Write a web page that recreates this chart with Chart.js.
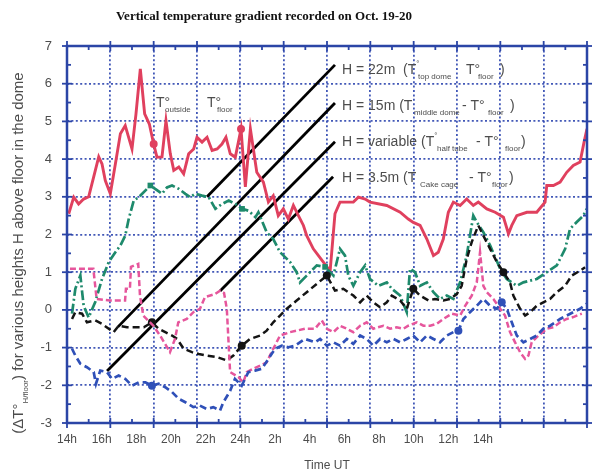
<!DOCTYPE html>
<html>
<head>
<meta charset="utf-8">
<script src="https://cdn.jsdelivr.net/npm/chart.js@4.4.0/dist/chart.umd.min.js"></script>
<style>
html, body { margin: 0; padding: 0; background: #fff; }
</style>
</head>
<body>
<canvas id="chart" width="592" height="476"></canvas>
<script>
// hours counted from 14h on Oct. 19
const timeLabels = ['14h', '16h', '18h', '20h', '22h', '24h', '2h', '4h', '6h', '8h', '10h', '12h', '14h'];
const labelHours = [0, 2, 4, 6, 8, 10, 12, 14, 16, 18, 20, 22, 24];

// T outside - T floor
const outsideFloor = [[0.1,2.55],[0.39,2.99],[0.67,2.81],[0.96,2.94],[1.25,3.0],[1.54,3.53],[1.83,4.06],[2.02,3.87],[2.21,3.43],[2.5,3.08],[2.79,3.87],[3.08,4.67],[3.36,4.89],[3.75,4.27],[3.98,5.2],[4.23,6.39],[4.48,5.2],[4.75,4.93],[5.0,4.4],[5.19,4.05],[5.48,4.06],[5.71,5.02],[5.96,4.14],[6.16,3.7],[6.45,3.79],[6.73,3.61],[7.02,4.14],[7.31,4.27],[7.5,4.58],[7.79,4.45],[8.08,4.58],[8.37,4.23],[8.66,4.27],[8.94,4.4],[9.17,4.58],[9.42,4.14],[9.71,4.05],[10.04,4.8],[10.29,3.26],[10.58,4.8],[10.95,3.65],[11.33,3.39],[11.62,2.86],[11.9,3.03],[12.19,2.5],[12.48,2.68],[12.77,2.41],[13.06,2.77],[13.35,2.5],[13.64,2.24],[13.83,1.97],[14.21,1.62],[14.79,1.27],[15.18,1.03],[15.46,2.55],[15.75,2.86],[16.52,2.86],[16.81,2.99],[17.2,2.94],[17.48,2.86],[18.45,2.77],[19.22,2.59],[19.69,2.41],[19.98,2.32],[20.37,2.24],[20.76,1.88],[21.14,1.44],[21.42,1.53],[21.71,1.88],[22.0,2.59],[22.29,2.86],[22.68,2.77],[23.06,2.94],[23.44,2.77],[23.73,2.86],[24.22,2.68],[24.7,2.59],[25.18,2.46],[25.47,2.02],[25.66,2.24],[25.95,2.5],[26.53,2.59],[27.1,2.59],[27.58,2.86],[27.68,3.3],[28.06,3.3],[28.45,3.39],[28.83,3.65],[29.21,3.83],[29.6,3.92],[29.83,4.45],[30.0,4.8]];

// H = 22m, top dome - floor
const topDome = [[0.29,-0.1],[0.48,0.56],[0.77,0.91],[0.96,0.11],[1.25,-0.2],[1.63,0.21],[2.02,0.82],[2.41,1.27],[2.79,1.53],[3.08,1.71],[3.36,1.97],[3.56,2.41],[3.85,2.9],[4.14,2.99],[4.81,3.3],[5.48,3.08],[5.77,3.25],[6.06,3.3],[6.45,3.21],[6.83,3.08],[7.11,2.99],[7.4,3.08],[7.79,3.03],[8.18,2.99],[8.56,2.68],[8.94,2.81],[9.33,2.9],[9.71,2.81],[10.1,2.68],[10.48,2.63],[10.87,2.46],[11.04,2.59],[11.52,2.06],[11.9,1.88],[12.29,1.53],[12.87,1.27],[13.25,1.0],[13.44,0.73],[13.83,0.91],[14.41,1.18],[14.89,1.14],[15.37,0.91],[15.75,1.62],[16.04,1.44],[16.23,0.91],[16.52,0.64],[16.91,1.0],[17.2,1.18],[17.48,0.82],[17.96,0.64],[18.45,0.73],[18.74,0.56],[19.22,0.38],[19.6,-0.06],[19.79,1.09],[20.08,1.0],[20.37,0.64],[20.76,0.73],[21.14,0.47],[21.52,0.29],[21.91,0.38],[22.29,0.29],[22.68,0.73],[23.06,1.44],[23.44,2.5],[23.64,2.33],[24.02,2.06],[24.41,1.71],[24.99,1.09],[25.37,0.82],[25.95,0.64],[26.33,0.73],[27.1,0.82],[27.68,1.0],[28.26,1.18],[28.74,1.62],[29.02,2.15],[29.41,2.33],[29.79,2.5],[29.98,2.68]];

// H = 15m, middle dome - floor
const middleDome = [[0.29,-0.24],[0.48,-0.06],[0.87,-0.1],[1.15,-0.33],[1.63,-0.28],[2.02,-0.37],[2.41,-0.5],[2.69,-0.59],[2.98,-0.42],[3.46,-0.46],[3.94,-0.46],[4.43,-0.46],[4.9,-0.33],[5.29,-0.5],[5.67,-0.59],[6.06,-0.68],[6.35,-0.77],[6.73,-1.03],[7.21,-1.12],[7.6,-1.17],[8.06,-1.21],[8.64,-1.25],[9.22,-1.34],[9.6,-1.21],[10.08,-0.95],[10.56,-0.77],[11.14,-0.68],[11.52,-0.55],[11.9,-0.33],[12.29,-0.15],[12.68,0.03],[13.25,0.25],[13.83,0.47],[14.41,0.69],[14.99,0.91],[15.46,0.51],[15.94,0.56],[16.52,0.38],[16.91,0.2],[17.29,0.38],[17.67,0.2],[18.06,0.07],[18.45,0.2],[18.74,0.38],[19.22,0.25],[19.6,0.03],[19.98,0.56],[20.37,0.38],[20.85,0.25],[21.23,0.29],[21.71,0.25],[22.1,0.29],[22.49,0.42],[22.77,0.64],[23.06,1.35],[23.35,1.8],[23.73,2.24],[24.02,1.97],[24.41,1.62],[24.8,1.27],[25.18,1.0],[25.56,0.73],[25.75,0.38],[26.14,0.03],[26.43,-0.15],[26.72,-0.06],[27.1,0.11],[27.48,0.2],[27.87,0.29],[28.26,0.47],[28.74,0.64],[29.12,0.91],[29.6,1.04],[29.89,1.13]];

// H = 3.5m, cake cage - floor
const cakeCage = [[0.17,1.09],[1.52,1.09],[1.71,0.29],[2.48,0.25],[3.06,0.25],[3.35,0.25],[3.4,0.56],[3.63,0.56],[3.69,1.14],[4.11,1.22],[4.21,0.38],[4.4,-0.15],[4.98,-0.42],[5.37,-0.68],[5.94,-1.12],[6.23,-0.77],[6.42,-0.33],[6.91,-0.24],[7.29,-0.06],[7.67,0.03],[7.96,0.34],[8.54,0.42],[8.83,0.51],[9.06,0.45],[9.22,0.03],[9.31,-0.77],[9.41,-1.65],[9.88,-1.78],[10.17,-1.92],[10.37,-1.65],[10.75,-1.56],[11.14,-1.48],[11.52,-1.39],[11.9,-1.03],[12.29,-0.68],[12.87,-0.59],[13.73,-0.5],[14.31,-0.5],[14.7,-0.28],[14.99,-0.5],[15.37,-0.59],[15.75,-0.42],[16.14,-0.5],[16.52,-0.59],[16.91,-0.42],[17.29,-0.33],[17.67,-0.5],[18.25,-0.42],[18.64,-0.5],[19.02,-0.46],[19.41,-0.5],[19.69,-0.42],[20.18,-0.33],[20.56,-0.42],[20.95,-0.42],[21.33,-0.37],[21.71,-0.24],[22.2,-0.1],[22.68,-0.15],[22.97,0.11],[23.35,0.38],[23.64,0.73],[23.83,1.53],[24.02,0.64],[24.22,0.47],[24.6,0.29],[24.99,0.03],[25.27,-0.15],[25.56,-0.59],[25.85,-0.86],[26.14,-1.12],[26.43,-1.3],[26.62,-1.21],[26.81,-0.86],[27.2,-0.68],[27.68,-0.5],[28.06,-0.46],[28.45,-0.33],[28.83,-0.24],[29.21,-0.19],[29.7,-0.1]];

// H variable, half tube - floor
const halfTube = [[0.29,-1.03],[0.48,-1.21],[0.77,-1.43],[1.15,-1.52],[1.54,-1.65],[1.67,-1.96],[1.92,-1.61],[2.31,-1.65],[2.6,-1.83],[2.98,-1.74],[3.36,-1.83],[3.75,-2.01],[4.14,-1.92],[4.52,-1.92],[4.9,-2.01],[5.29,-1.96],[5.67,-2.05],[6.06,-2.18],[6.45,-2.36],[6.83,-2.45],[7.29,-2.58],[7.67,-2.54],[8.06,-2.63],[8.44,-2.58],[8.83,-2.67],[9.02,-2.45],[9.41,-2.15],[9.69,-1.83],[10.08,-2.01],[10.46,-1.65],[10.85,-1.61],[11.24,-1.56],[11.62,-1.3],[12.0,-1.03],[12.39,-0.95],[12.77,-0.99],[13.16,-0.95],[13.73,-0.77],[14.31,-0.86],[14.6,-0.77],[14.99,-0.95],[15.37,-0.86],[15.75,-0.95],[16.14,-0.77],[16.52,-0.9],[16.91,-0.68],[17.29,-0.77],[17.67,-0.95],[18.06,-0.77],[18.45,-0.86],[18.83,-0.77],[19.22,-0.86],[19.6,-0.77],[19.98,-0.68],[20.37,-0.86],[20.76,-0.68],[21.14,-0.77],[21.52,-0.86],[21.91,-0.68],[22.29,-0.59],[22.58,-0.55],[22.87,-0.24],[23.25,-0.06],[23.64,0.11],[24.02,0.29],[24.41,0.11],[24.8,0.03],[25.08,0.2],[25.37,0.03],[25.66,-0.33],[25.95,-0.68],[26.33,-0.86],[26.72,-0.77],[27.1,-0.68],[27.48,-0.5],[27.87,-0.42],[28.45,-0.24],[28.83,-0.15],[29.21,-0.06],[29.6,0.03],[29.98,0.16]];

// pointer lines from the legend notes to the curves
const arrow22m = [[15.46,6.5],[8.08,3.0]];
const arrow15m = [[15.46,5.49],[2.94,-0.45]];
const arrowVar = [[15.46,4.46],[2.31,-1.62]];
const arrow35m = [[15.35,3.53],[8.83,0.5]];

// hours where a curve carries a dot
const outsideDots = [5.0, 10.04];
const topDomeDots = [4.81, 10.1, 14.89];
const middleDomeDots = [4.9, 10.08, 14.99, 19.98, 25.18];
const halfTubeDots = [4.9, 22.58, 25.08];

const toXY = arr => arr.map(([x, y]) => ({x, y}));
const frameBlue = '#2b45a6';
const gridBlue = 'rgba(45,70,175,0.9)';
const textGray = '#4d4d4d';
const narrow = '"Liberation Sans Narrow", "Liberation Sans", Arial, sans-serif';
const regular = '"Liberation Sans", Arial, sans-serif';

function line(ctx, x1, y1, x2, y2) {
    ctx.beginPath();
    ctx.moveTo(x1, y1);
    ctx.lineTo(x2, y2);
    ctx.stroke();
}

// draws pieces of text with sub/superscripts one after another
function richText(ctx, x, y, parts, size, family) {
    let cx = x;
    parts.forEach(([txt, kind]) => {
        const s = kind === 'n' ? size : Math.round(size * 0.55);
        ctx.font = s + 'px ' + (family || narrow);
        const dy = kind === 'sub' ? size * 0.45 : (kind === 'sup' ? -size * 0.45 : 0);
        ctx.fillText(txt, cx, y + dy);
        cx += ctx.measureText(txt).width;
    });
    return cx - x;
}

const notes = {
    id: 'notes',
    afterDraw(chart) {
        const {ctx, chartArea: a, scales} = chart;
        const xs = scales.x, ys = scales.y;
        ctx.save();

        // frame and tick marks
        ctx.strokeStyle = frameBlue;
        ctx.lineWidth = 2.5;
        ctx.strokeRect(a.left, a.top, a.right - a.left, a.bottom - a.top);
        ctx.lineWidth = 1.8;
        for (let i = 0; i <= 24; i++) {
            const px = xs.getPixelForValue(i * 1.25);
            const major = i % 2 === 0;
            const o = major ? 5 : 0, n = major ? 5 : 4;
            line(ctx, px, a.bottom + o, px, a.bottom - n);
            line(ctx, px, a.top - o, px, a.top + n);
        }
        for (let i = 0; i <= 20; i++) {
            const py = ys.getPixelForValue(-3 + i * 0.5);
            const major = i % 2 === 0;
            const o = major ? 5 : 0, n = major ? 5 : 4;
            line(ctx, a.left - o, py, a.left + n, py);
            line(ctx, a.right + o, py, a.right - n, py);
        }

        // title
        ctx.fillStyle = '#111';
        ctx.font = 'bold 13px "Liberation Serif", "Times New Roman", serif';
        ctx.textAlign = 'center';
        ctx.textBaseline = 'middle';
        ctx.fillText('Vertical temperature gradient recorded on Oct. 19-20', 264, 17);

        // y axis title
        ctx.fillStyle = textGray;
        ctx.textAlign = 'left';
        const yParts = [['(\u0394T\u00b0', 'n'], ['H/floor', 'sub'], [') for various heights H above floor in the dome', 'n']];
        ctx.save();
        ctx.translate(19, 253);
        ctx.rotate(-Math.PI / 2);
        ctx.globalAlpha = 0;
        const w = richText(ctx, 0, 0, yParts, 15, regular);
        ctx.globalAlpha = 1;
        richText(ctx, -w / 2, 0, yParts, 15, regular);
        ctx.restore();

        // legend notes
        const legendLines = [
            [70, [[342, [['H = 22m  (T', 'n'], ['\u00b0', 'sup']]], [418, [['top dome', 'sub']]], [466, [['T\u00b0', 'n']]], [478, [['floor', 'sub']]], [500, [[')', 'n']]]]],
            [106, [[342, [['H = 15m (T', 'n']]], [414, [['middle dome', 'sub']]], [462, [['- T\u00b0', 'n']]], [488, [['floor', 'sub']]], [510, [[')', 'n']]]]],
            [142, [[342, [['H = variable (T', 'n'], ['\u00b0', 'sup']]], [437, [['half tube', 'sub']]], [476, [['- T\u00b0', 'n']]], [505, [['floor', 'sub']]], [521, [[')', 'n']]]]],
            [178, [[342, [['H = 3.5m (T', 'n']]], [420, [['Cake cage', 'sub']]], [469, [['- T\u00b0', 'n']]], [492, [['floor', 'sub']]], [509, [[')', 'n']]]]]
        ];
        legendLines.forEach(([y, pieces]) => {
            pieces.forEach(([x, parts]) => richText(ctx, x, y, parts, 14));
        });
        richText(ctx, 156, 103, [['T\u00b0', 'n']], 14);
        richText(ctx, 165, 103, [['outside', 'sub']], 14);
        richText(ctx, 207, 103, [['T\u00b0', 'n']], 14);
        richText(ctx, 217, 103, [['floor', 'sub']], 14);
        ctx.restore();
    }
};

// radius 0 except at the sample closest to each dot hour
function dotRadius(data, hours, r) {
    const idx = hours.map(h => {
        let best = 0;
        data.forEach(([x], i) => { if (Math.abs(x - h) < Math.abs(data[best][0] - h)) best = i; });
        return best;
    });
    return data.map((_, i) => idx.includes(i) ? r : 0);
}

const serie = (label, data, color, width, dash, dots, style) => ({
    label,
    data: toXY(data),
    borderColor: color,
    backgroundColor: color,
    borderWidth: width,
    borderDash: dash,
    pointRadius: dots ? dotRadius(data, dots, 4) : 0,
    pointStyle: style || 'circle',
    pointBorderWidth: 0,
    fill: false,
    tension: 0
});

new Chart(document.getElementById('chart'), {
    type: 'line',
    data: {
        datasets: [
            serie('H variable', halfTube, '#2f50b8', 2.7, [7, 4], halfTubeDots),
            serie('H = 3.5m', cakeCage, '#e6569c', 2.5, [6, 3]),
            serie('H = 15m', middleDome, '#141414', 2.5, [7, 4], middleDomeDots),
            serie('H = 22m', topDome, '#1e8a6c', 2.7, [10, 3, 2, 3], topDomeDots, 'rect'),
            serie('outside', outsideFloor, '#e0405e', 2.9, [], outsideDots),
            serie('a1', arrow22m, '#000', 2.8, []),
            serie('a2', arrow15m, '#000', 2.8, []),
            serie('a3', arrowVar, '#000', 2.8, []),
            serie('a4', arrow35m, '#000', 2.8, [])
        ]
    },
    options: {
        responsive: false,
        animation: false,
        layout: {padding: {top: 46, right: 5, left: 0, bottom: 0}},
        plugins: {legend: {display: false}, tooltip: {enabled: false}, title: {display: false}},
        scales: {
            x: {
                type: 'linear', min: 0, max: 30, position: 'bottom',
                afterBuildTicks: s => { s.ticks = Array.from({length: 13}, (_, i) => ({value: i * 2.5})); },
                afterFit: s => { s.height = 0; },
                grid: {color: gridBlue, lineWidth: 1.8, drawTicks: false},
                border: {display: false, dash: [2, 2.4]},
                ticks: {display: false}
            },
            xLab: {
                type: 'linear', min: 0, max: 30, position: 'bottom',
                afterBuildTicks: s => { s.ticks = labelHours.map(v => ({value: v})); },
                afterFit: s => { s.height = 53; },
                grid: {display: false, drawTicks: false},
                border: {display: false},
                ticks: {
                    padding: 9, color: textGray, maxRotation: 0, autoSkip: false,
                    font: {family: narrow, size: 12},
                    callback: (v, i) => timeLabels[i]
                },
                title: {display: true, text: 'Time UT', color: textGray, font: {family: narrow, size: 12}, padding: {top: 0, bottom: 3}}
            },
            y: {
                min: -3, max: 7,
                afterFit: s => { s.width = 67; },
                grid: {color: gridBlue, lineWidth: 1.8, drawTicks: false},
                border: {display: false, dash: [2, 2.4]},
                ticks: {stepSize: 1, padding: 15, color: textGray, font: {family: narrow, size: 13}}
            }
        }
    },
    plugins: [notes]
});
</script>
</body>
</html>
